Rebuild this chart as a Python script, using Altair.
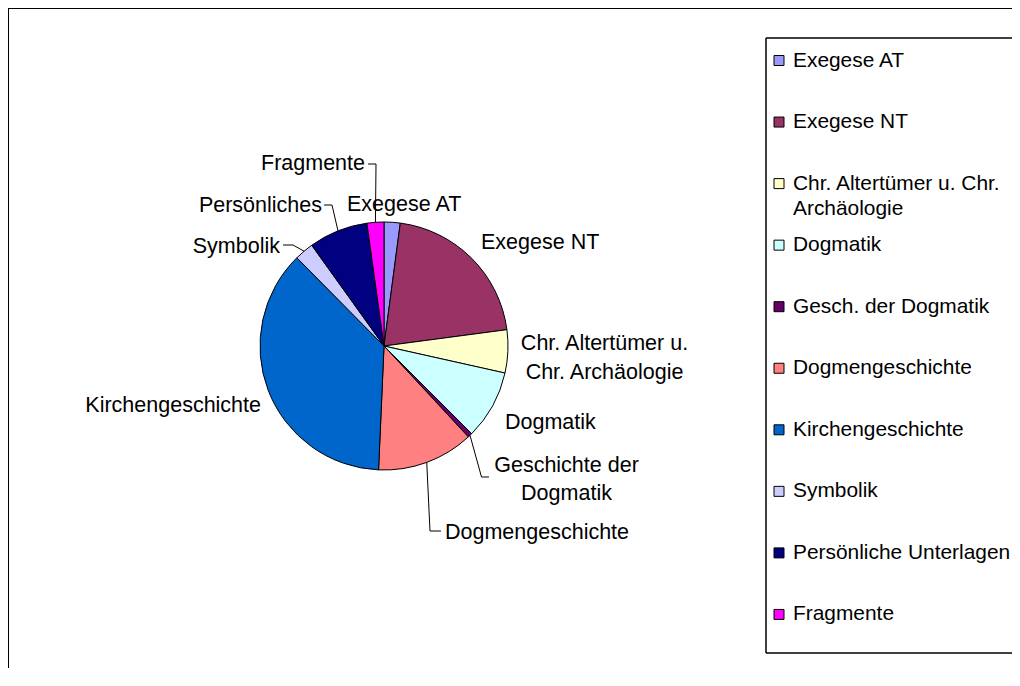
import math
import altair as alt
import pandas as pd

# ---------------- data ----------------
categories = [
    "Exegese AT",
    "Exegese NT",
    "Chr. Altertümer u. Chr. Archäologie",
    "Dogmatik",
    "Gesch. der Dogmatik",
    "Dogmengeschichte",
    "Kirchengeschichte",
    "Symbolik",
    "Persönliche Unterlagen",
    "Fragmente",
]
values = [2.1, 20.8, 5.6, 9.0, 0.6, 12.6, 36.9, 2.5, 7.7, 2.2]
legend_lines = [
    ["Exegese AT"],
    ["Exegese NT"],
    ["Chr. Altertümer u. Chr.", "Archäologie"],
    ["Dogmatik"],
    ["Gesch. der Dogmatik"],
    ["Dogmengeschichte"],
    ["Kirchengeschichte"],
    ["Symbolik"],
    ["Persönliche Unterlagen"],
    ["Fragmente"],
]
pie_labels = [
    ["Exegese AT"],
    ["Exegese NT"],
    ["Chr. Altertümer u.", "Chr. Archäologie"],
    ["Dogmatik"],
    ["Geschichte der", "Dogmatik"],
    ["Dogmengeschichte"],
    ["Kirchengeschichte"],
    ["Symbolik"],
    ["Persönliches"],
    ["Fragmente"],
]
colors = ["#9999FF", "#993366", "#FFFFCC", "#CCFFFF", "#660066",
          "#FF8080", "#0066CC", "#CCCCFF", "#000080", "#FF00FF"]

# ---------------- layout ----------------
W, H = 1004, 660
CX, CY, R = 376, 338, 124
FONT = "Liberation Sans"
FS = 21.5
LEG_FS = 20.9

# label anchor (x, first baseline y, align, line height)
label_layout = [
    (339, 203, "left", 28),
    (473, 240.5, "left", 28),
    (596.5, 341.5, "center", 29),
    (497, 420.5, "left", 28),
    (558.5, 463.5, "center", 28),
    (437, 530.5, "left", 28),
    (253, 403.7, "right", 28),
    (272, 244.5, "right", 28),
    (314, 203.5, "right", 28),
    (357, 162, "right", 28),
]
# leader lines: elbow and end points (start is on the slice edge)
leader_layout = {
    4: [(473.5, 469), (481, 469)],
    5: [(422, 523), (433, 523)],
    7: [(285, 237), (275, 237)],
    8: [(324, 197), (316, 197)],
    9: [(368, 156), (360, 156)],
}
LEG_LEFT, LEG_TOP, LEG_BOTTOM = 758, 30, 645
LEG_BASE0, LEG_STEP, LEG_LH = 58.5, 61.55, 25
LEG_SW_X, LEG_TX = 771, 785

# ---------------- tables ----------------
pie_df = pd.DataFrame({"category": categories, "value": values,
                       "idx": list(range(len(categories)))})

total = sum(values)
mids = []
cum = 0.0
for v in values:
    mids.append((cum + v / 2) / total * 2 * math.pi)
    cum += v

text_rows = []
for i, lines in enumerate(pie_labels):
    x, y, align, lh = label_layout[i]
    for j, t in enumerate(lines):
        text_rows.append({"text": t, "x": x, "y": y + j * lh, "align": align})
text_df = pd.DataFrame(text_rows)

lead_rows = []
for i, pts in leader_layout.items():
    ex = CX + R * math.sin(mids[i])
    ey = CY - R * math.cos(mids[i])
    allpts = [(ex, ey)] + pts
    for k, (px, py) in enumerate(allpts):
        lead_rows.append({"id": i, "seq": k, "x": px, "y": py})
lead_df = pd.DataFrame(lead_rows)

leg_text_rows = []
leg_sw_rows = []
for i, lines in enumerate(legend_lines):
    base = LEG_BASE0 + i * LEG_STEP
    leg_sw_rows.append({"category": categories[i], "x": LEG_SW_X, "y": base - 6})
    for j, t in enumerate(lines):
        leg_text_rows.append({"text": t, "x": LEG_TX, "y": base + j * LEG_LH})
leg_text_df = pd.DataFrame(leg_text_rows)
leg_sw_df = pd.DataFrame(leg_sw_rows)

rules_df = pd.DataFrame([
    # outer chart frame (top, left)
    {"x": 0, "y": 0, "x2": W + 20, "y2": 0, "w": 2},
    {"x": 0, "y": 0, "x2": 0, "y2": H + 20, "w": 2},
    # legend box (top, left, bottom)
    {"x": LEG_LEFT, "y": LEG_TOP, "x2": W + 20, "y2": LEG_TOP, "w": 1.5},
    {"x": LEG_LEFT, "y": LEG_TOP, "x2": LEG_LEFT, "y2": LEG_BOTTOM, "w": 1.5},
    {"x": LEG_LEFT, "y": LEG_BOTTOM, "x2": W + 20, "y2": LEG_BOTTOM, "w": 1.5},
])

xs = alt.Scale(domain=[0, W], nice=False, zero=False)
ys = alt.Scale(domain=[0, H], nice=False, zero=False, reverse=True)
color_scale = alt.Scale(domain=categories, range=colors)

pie = alt.Chart(pie_df).mark_arc(radius=R, stroke="black", strokeWidth=1).encode(
    theta=alt.Theta("value:Q", stack=True),
    color=alt.Color("category:N", scale=color_scale, legend=None),
    order=alt.Order("idx:Q"),
    x=alt.value(CX),
    y=alt.value(CY),
)

leaders = alt.Chart(lead_df).mark_line(color="black", strokeWidth=1).encode(
    x=alt.X("x:Q", scale=xs, axis=None),
    y=alt.Y("y:Q", scale=ys, axis=None),
    detail="id:N",
    order="seq:Q",
)


def text_layer(align):
    return alt.Chart(text_df[text_df["align"] == align]).mark_text(
        align=align, baseline="alphabetic", font=FONT, fontSize=FS, color="black"
    ).encode(
        x=alt.X("x:Q", scale=xs, axis=None),
        y=alt.Y("y:Q", scale=ys, axis=None),
        text="text:N",
    )


rules = alt.Chart(rules_df).mark_rule(color="black").encode(
    x=alt.X("x:Q", scale=xs, axis=None),
    y=alt.Y("y:Q", scale=ys, axis=None),
    x2="x2:Q",
    y2="y2:Q",
    strokeWidth=alt.StrokeWidth("w:Q", scale=None),
)

leg_sw = alt.Chart(leg_sw_df).mark_square(size=100, stroke="black", strokeWidth=1, opacity=1).encode(
    x=alt.X("x:Q", scale=xs, axis=None),
    y=alt.Y("y:Q", scale=ys, axis=None),
    color=alt.Color("category:N", scale=color_scale, legend=None),
)

leg_text = alt.Chart(leg_text_df).mark_text(
    align="left", baseline="alphabetic", font=FONT, fontSize=LEG_FS, color="black"
).encode(
    x=alt.X("x:Q", scale=xs, axis=None),
    y=alt.Y("y:Q", scale=ys, axis=None),
    text="text:N",
)

chart = alt.layer(
    pie, leaders, text_layer("left"), text_layer("right"), text_layer("center"),
    rules, leg_sw, leg_text,
).properties(
    width=W, height=H, padding=0,
    autosize=alt.AutoSizeParams(type="none"),
).configure_view(stroke=None).configure(background="white")

chart.save("out.html", embed_options={"renderer": "svg", "actions": False})
